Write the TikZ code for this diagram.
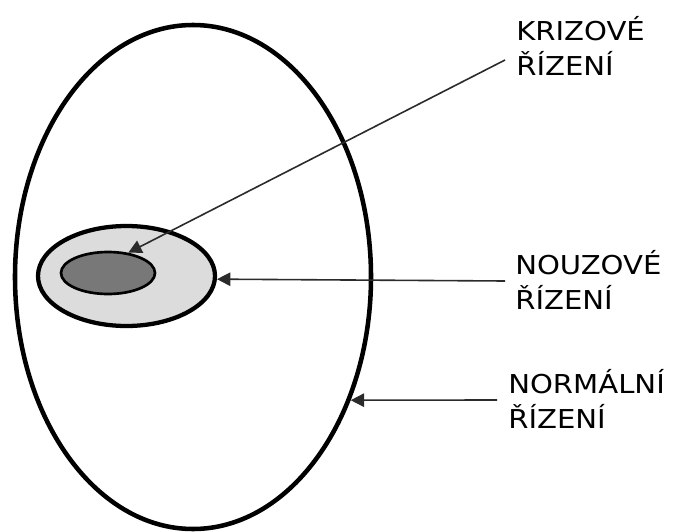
\documentclass[tikz,border=0pt]{standalone}
\usepackage{fontspec}
\setmainfont{DejaVu Sans}[FakeStretch=1.12]
\usetikzlibrary{arrows.meta, shapes.geometric}
\definecolor{areagray}{HTML}{DCDCDC}
\definecolor{coregray}{HTML}{787878}
\definecolor{linkgray}{HTML}{2B2B2B}

\begin{document}
\begin{tikzpicture}[x=0.75pt, y=-0.75pt,
  zone/.style={ellipse, draw=black, inner sep=0pt, line width=#1},
  lab/.style={font=\fontsize{19.5}{26.25}\selectfont, align=left, inner sep=0pt, anchor=base west},
  link/.style={-{Triangle[length=10pt,width=10pt]}, draw=linkgray, line width=1.2pt}]
  \useasboundingbox (0,0) rectangle (673,531);
  % --- zones ---
  \node[zone=3.4pt, minimum width=267pt, minimum height=378pt] (normal) at (193,277) {};
  \node[zone=3.2pt, fill=areagray, minimum width=132.75pt, minimum height=75pt] (nouz) at (126.5,276) {};
  \node[zone=2pt, fill=coregray, minimum width=70.5pt, minimum height=31.5pt] (krize) at (108,273) {};
  % --- labels (anchored at the last line) ---
  \node[lab] (krizL) at (516,76) {KRIZOVÉ\\ŘÍZENÍ};
  \node[lab] (nouzL) at (515,309) {NOUZOVÉ\\ŘÍZENÍ};
  \node[lab] (normL) at (508,428) {NORMÁLNÍ\\ŘÍZENÍ};
  % --- links ---
  \coordinate (krizS) at (505,60);
  \coordinate (nouzS) at (505,281);
  \coordinate (normS) at (497,400);
  \draw[link] (krizS) -- (krize.45);
  \draw[link] (nouzS) -- (nouz.-2);
  \draw[link] (normS) -- (normal.-38);
\end{tikzpicture}
\end{document}
